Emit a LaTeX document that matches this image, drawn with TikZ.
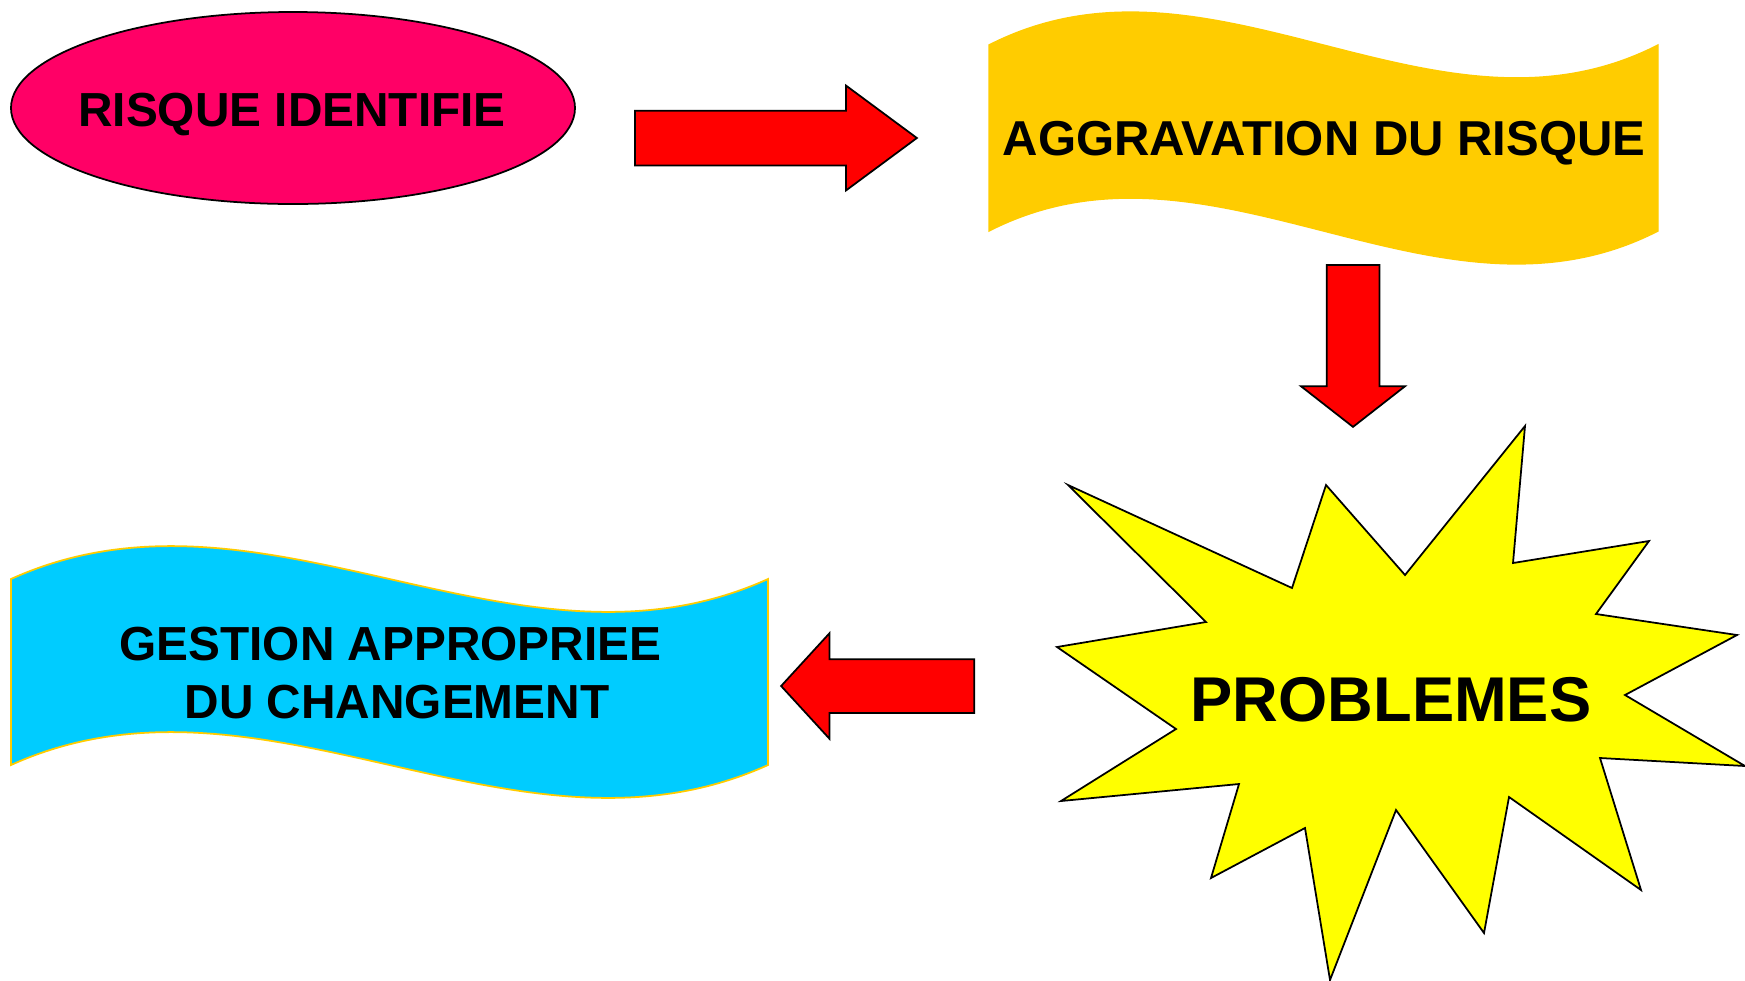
\documentclass[tikz,border=0pt]{standalone}
\usepackage{fontspec}
\setmainfont{Liberation Sans}
\definecolor{rsqrose}{RGB}{255,0,102}
\definecolor{rsqrouge}{RGB}{255,0,0}
\definecolor{rsqor}{RGB}{255,204,0}
\definecolor{rsqjaune}{RGB}{255,255,0}
\definecolor{rsqcyan}{RGB}{0,204,255}
\usepackage{tikz}
\usetikzlibrary{shapes.geometric, shapes.arrows, positioning}

\begin{document}
\begin{tikzpicture}[x=0.1mm, y=-0.1mm,
titre/.style={font=\fontsize{13.6}{16.5}\selectfont\bfseries, align=center},
fleche/.style={single arrow, draw=black, fill=rsqrouge, line width=0.5pt,
inner xsep=0pt, anchor=tail}]
\useasboundingbox (0,0) rectangle (1745,980);
\draw[fill=rsqrose, draw=black, line width=0.5pt] (293,108) ellipse [x radius=282, y radius=96];
\node[titre, anchor=base] (ris) at (292,126) {RISQUE IDENTIFIE};
\draw[fill=rsqor, draw=rsqor] (989,45) .. controls (1212,-69) and (1435,159) .. (1658,45)
-- (1658,231) .. controls (1435,345) and (1212,117) .. (989,231) -- cycle;
\node[titre, font=\fontsize{13.95}{16.5}\selectfont\bfseries, anchor=base] (agg) at (1324,155) {AGGRAVATION DU RISQUE};
\draw[fill=rsqjaune, draw=black, line width=0.5pt] (1068,485) -- (1292,588) -- (1326,485)
-- (1405,575) -- (1525,426) -- (1513,563) -- (1649,541) -- (1596,614) -- (1737,635)
-- (1625,695) -- (1745,766) -- (1600,758) -- (1641,890) -- (1509,797) -- (1484,933)
-- (1396,810) -- (1330,980) -- (1305,828) -- (1211,878) -- (1239,784) -- (1061,801)
-- (1176,729) -- (1057,647) -- (1206,622) -- cycle;
\node[font=\fontsize{18}{20}\selectfont\bfseries, anchor=base] (pro) at (1391,721) {PROBLEMES};
\draw[fill=rsqcyan, draw=rsqor, line width=0.5pt] (11,579) .. controls (263,465) and (516,693) .. (768,579)
-- (768,765) .. controls (516,879) and (263,651) .. (11,765) -- cycle;
\node[titre] (ges) at (397,673) {GESTION APPROPRIEE\hspace*{.28em}\\DU CHANGEMENT};
\node[fleche, minimum height=28.2mm, inner ysep=2.65mm, single arrow head extend=2.5mm,
single arrow tip angle=73] (f1) at (634,138) {};
\node[fleche, rotate=-90, minimum height=16.2mm, inner ysep=2.55mm, single arrow head extend=2.55mm,
single arrow tip angle=104] (f2) at (1353,264) {};
\node[fleche, rotate=180, minimum height=19.3mm, inner ysep=2.6mm, single arrow head extend=2.6mm,
single arrow tip angle=95] (f3) at (975,686) {};
\end{tikzpicture}
\end{document}
